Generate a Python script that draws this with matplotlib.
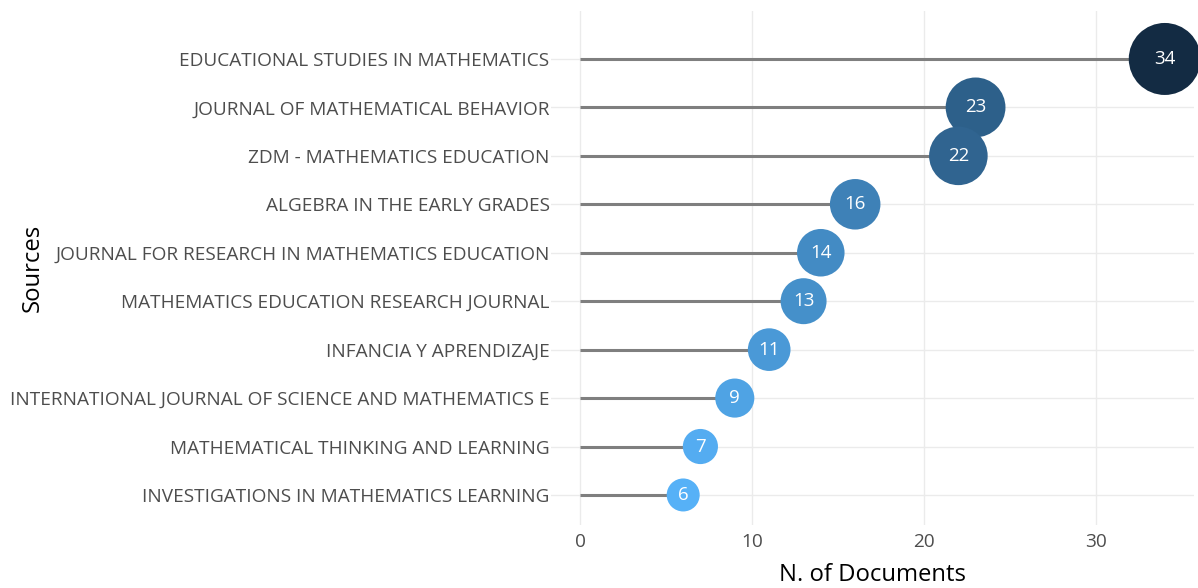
import matplotlib
matplotlib.use("Agg")
import matplotlib.pyplot as plt
import numpy as np

# sources, listed from top to bottom as in the chart
sources = ["EDUCATIONAL STUDIES IN MATHEMATICS",
           "JOURNAL OF MATHEMATICAL BEHAVIOR",
           "ZDM - MATHEMATICS EDUCATION",
           "ALGEBRA IN THE EARLY GRADES",
           "JOURNAL FOR RESEARCH IN MATHEMATICS EDUCATION",
           "MATHEMATICS EDUCATION RESEARCH JOURNAL",
           "INFANCIA Y APRENDIZAJE",
           "INTERNATIONAL JOURNAL OF SCIENCE AND MATHEMATICS E",
           "MATHEMATICAL THINKING AND LEARNING",
           "INVESTIGATIONS IN MATHEMATICS LEARNING"]
documents = [34, 23, 22, 16, 14, 13, 11, 9, 7, 6]
x_ticks = [0, 10, 20, 30]

plt.rcParams['font.family'] = ['Open Sans', 'DejaVu Sans']

fig = plt.figure(figsize=(11.98, 5.88), dpi=100)
ax = fig.add_axes([551 / 1198, 63 / 588, 643 / 1198, 514 / 588])

n = len(sources)
ypos = np.arange(n, 0, -1)  # top row gets highest position
vals = np.array(documents, dtype=float)

# colour gradient like ggplot default (light -> dark)
light = np.array([86, 177, 247]) / 255
dark = np.array([19, 43, 67]) / 255
t = (vals - vals.min()) / (vals.max() - vals.min())
colors = [tuple(light + (dark - light) * ti) for ti in t]

# bubble size: area linear in value
d_min, d_max = 33, 72  # diameters in px
area = d_min ** 2 + (d_max ** 2 - d_min ** 2) * t
sizes = area * 0.72 ** 2

# gridlines
for xt in x_ticks:
    ax.axvline(xt, color="#EBEBEB", lw=1.0, zorder=0)
for y in ypos:
    ax.axhline(y, color="#EBEBEB", lw=1.0, zorder=0)

# stems
ax.hlines(ypos, 0, vals, color="#7F7F7F", lw=2.2, zorder=1)

# bubbles, drawn top to bottom so lower ones sit on top
for i in range(n):
    ax.scatter(vals[i], ypos[i], s=sizes[i], color=colors[i], zorder=2 + i,
               edgecolors="none", clip_on=False)
    ax.text(vals[i], ypos[i], str(documents[i]), color="white", fontsize=13.5,
            ha="center", va="center", zorder=2 + i)

ax.set_xlim(-1.686, 35.7)
ax.set_ylim(0.38, n + 0.99)
ax.set_xticks(x_ticks)
ax.set_yticks(ypos)
ax.set_yticklabels(sources)
ax.tick_params(axis="both", length=0, labelsize=13.7, labelcolor="#4D4D4D")
ax.tick_params(axis="x", pad=6)
ax.tick_params(axis="y", pad=1)
for s in ax.spines.values():
    s.set_visible(False)

ax.set_xlabel("N. of Documents", fontsize=17.2, color="black")
ax.set_ylabel("Sources", fontsize=17.2, color="black")
ax.xaxis.set_label_coords(0.5, -0.074)
ax.yaxis.set_label_coords(-0.787, 0.5)

fig.savefig("out.png", dpi=100)
